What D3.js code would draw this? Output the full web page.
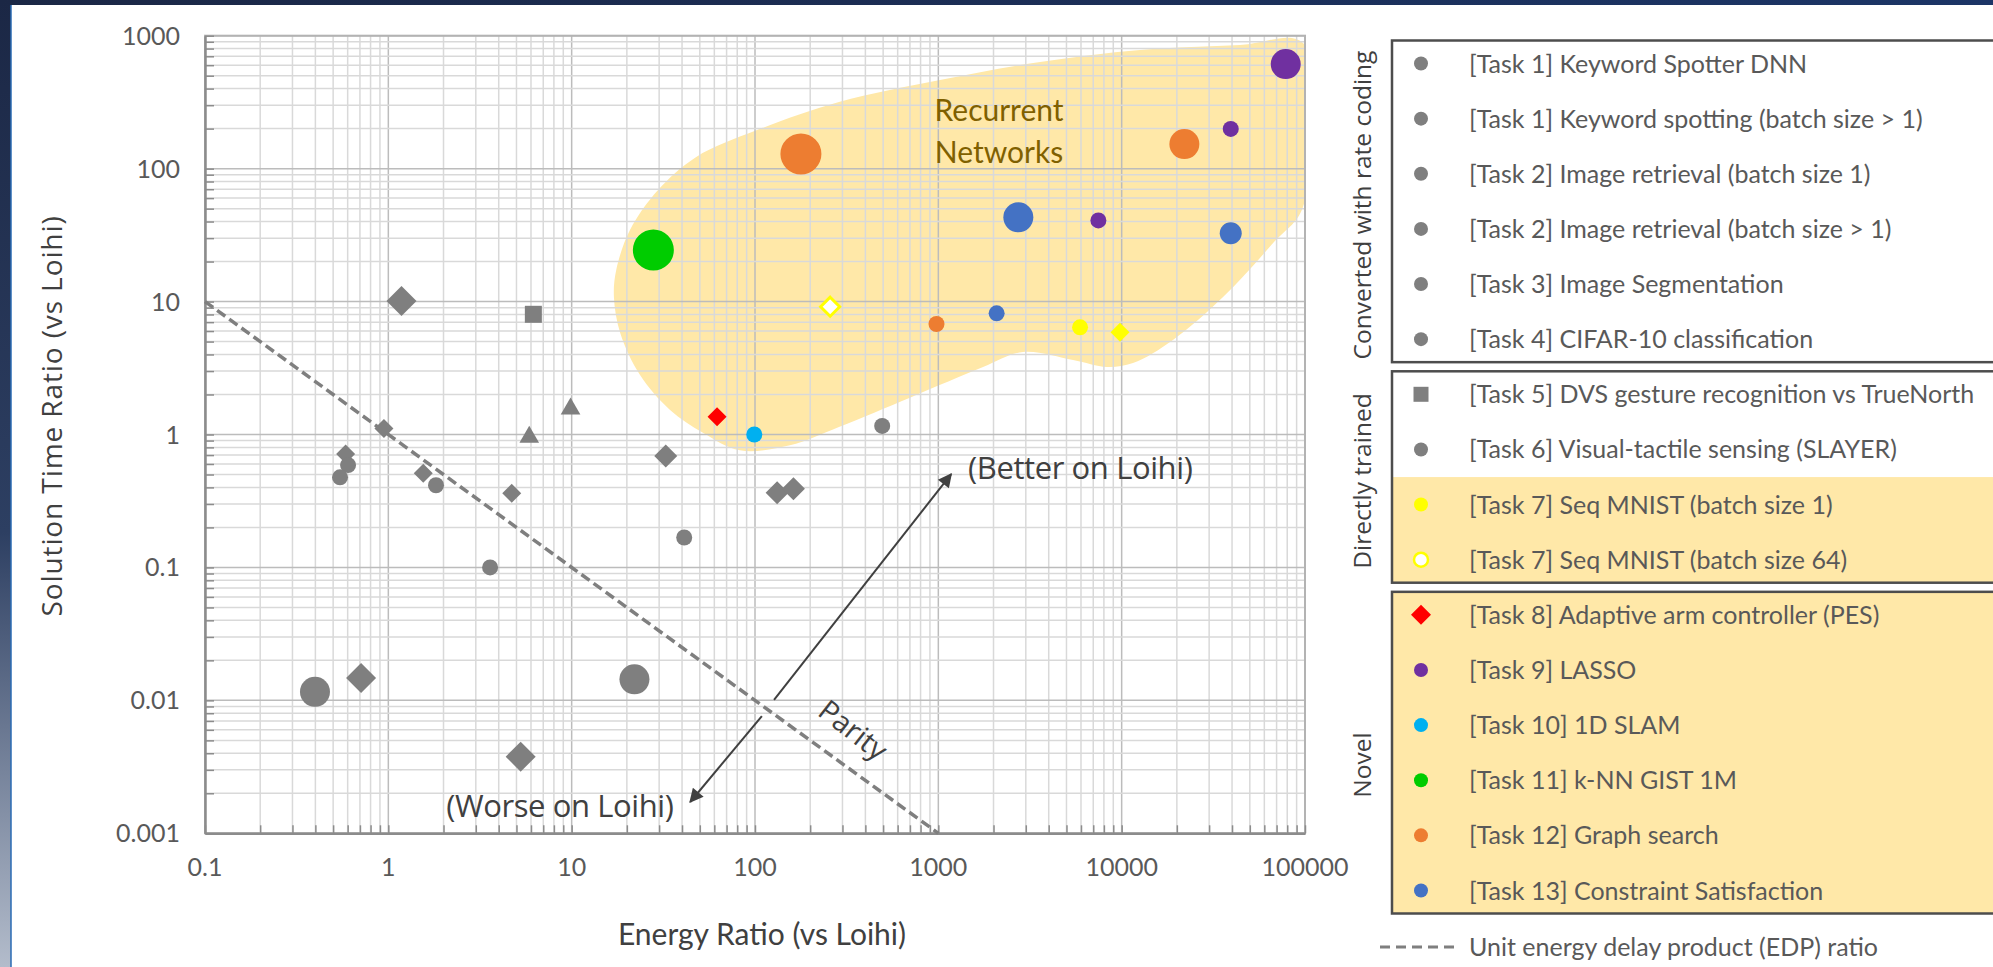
<!DOCTYPE html>
<html>
<head>
<meta charset="utf-8">
<title>Energy and solution time ratio vs Loihi</title>
<script src="https://cdn.jsdelivr.net/npm/d3@7"></script>
<style>
  body { margin: 0; background: #fff; }
  svg text { font-family: Lato, "Open Sans", sans-serif; }
</style>
</head>
<body>
<div id="chart"></div>
<script>
// Axis ticks
var xTicks = [0.1, 1, 10, 100, 1000, 10000, 100000];
var yTicks = [0.001, 0.01, 0.1, 1, 10, 100, 1000];

// Legend entries
var taskKeys = ["t1a", "t1b", "t2a", "t2b", "t3", "t4", "t5", "t6", "t7a", "t7b", "t8", "t9", "t10", "t11", "t12", "t13"];
var taskLabels = [
  "[Task 1] Keyword Spotter DNN",
  "[Task 1] Keyword spotting (batch size > 1)",
  "[Task 2] Image retrieval (batch size 1)",
  "[Task 2] Image retrieval (batch size > 1)",
  "[Task 3] Image Segmentation",
  "[Task 4] CIFAR-10 classification",
  "[Task 5] DVS gesture recognition vs TrueNorth",
  "[Task 6] Visual-tactile sensing (SLAYER)",
  "[Task 7] Seq MNIST (batch size 1)",
  "[Task 7] Seq MNIST (batch size 64)",
  "[Task 8] Adaptive arm controller (PES)",
  "[Task 9] LASSO",
  "[Task 10] 1D SLAM",
  "[Task 11] k-NN GIST 1M",
  "[Task 12] Graph search",
  "[Task 13] Constraint Satisfaction"
];
var taskGroups = [0, 0, 0, 0, 0, 0, 1, 1, 1, 1, 2, 2, 2, 2, 2, 2];
var groupNames = ["Converted with rate coding", "Directly trained", "Novel"];

// Gray comparison points: energy ratio, time ratio, shape, size class
var grayPoints = [
  [1.18, 10.1, "diamond", "l"],
  [6.18, 8.02, "square", "m"],
  [0.946, 1.11, "diamond", "s"],
  [5.87, 0.957, "triangle", "m"],
  [9.86, 1.56, "triangle", "m"],
  [0.585, 0.713, "diamond", "s"],
  [0.603, 0.589, "circle", "s"],
  [0.545, 0.476, "circle", "s"],
  [1.55, 0.511, "diamond", "s"],
  [1.82, 0.415, "circle", "s"],
  [4.71, 0.361, "diamond", "s"],
  [3.59, 0.100, "circle", "s"],
  [0.398, 0.0116, "circle", "l"],
  [0.71, 0.0147, "diamond", "l"],
  [5.27, 0.00377, "diamond", "l"],
  [32.6, 0.689, "diamond", "m"],
  [132, 0.365, "diamond", "m"],
  [162, 0.391, "diamond", "m"],
  [41.1, 0.168, "circle", "s"],
  [22.0, 0.0144, "circle", "l"],
  [494, 1.16, "circle", "s"]
];

// Coloured task points: task, energy ratio, time ratio, shape, size class
var taskPoints = [
  ["t11", 27.9, 24.4, "circle", "xl"],
  ["t12", 178, 129, "circle", "xl"],
  ["t7b", 257, 9.15, "diamond", "s"],
  ["t12", 977, 6.78, "circle", "s"],
  ["t8", 62.1, 1.36, "diamond", "s"],
  ["t10", 99.1, 1.0, "circle", "s"],
  ["t9", 78500, 612, "circle", "l"],
  ["t9", 39350, 199, "circle", "s"],
  ["t12", 21980, 153, "circle", "l"],
  ["t13", 2731, 43, "circle", "l"],
  ["t9", 7464, 40.8, "circle", "s"],
  ["t13", 39350, 32.6, "circle", "m"],
  ["t13", 2080, 8.16, "circle", "s"],
  ["t7a", 5929, 6.4, "circle", "s"],
  ["t7a", 9795, 5.87, "diamond", "s"]
];

// Outline of the "Recurrent Networks" region: energy ratio, time ratio
var recurrentRegion = [
  [97500, 881], [44260, 851], [12590, 780], [3590, 634], [1021, 464], [287, 317],
  [102.6, 195], [47.6, 122], [29.6, 69], [20.8, 34.5], [17.5, 17.3], [17.0, 10.8],
  [18.4, 5.8], [23.6, 2.8], [34.4, 1.53], [52, 1.03], [82.8, 0.76], [155, 0.83],
  [287, 1.14], [710, 1.91], [1754, 3.22], [2897, 4.17], [5430, 3.63], [8318, 3.22],
  [11530, 3.45], [19050, 5.14], [35730, 10.8], [66990, 27.6], [97500, 51.5]
];

// Unit EDP (parity) line and the better/worse arrows
var parityLine = [[0.1, 10], [1000, 0.001]];
var betterArrow = [[127, 0.01007], [1175, 0.504]];
var worseArrow = [[109, 0.00762], [44.3, 0.00172]];

var W = 1993, H = 967;
var plot = { left: 205, right: 1305, top: 35.7, bottom: 833.3 };

var x = d3.scaleLog().domain([0.1, 100000]).range([plot.left, plot.right]);
var y = d3.scaleLog().domain([0.001, 1000]).range([plot.bottom, plot.top]);

var taskColor = d3.scaleOrdinal()
  .domain(taskKeys)
  .range(["#7f7f7f", "#7f7f7f", "#7f7f7f", "#7f7f7f", "#7f7f7f", "#7f7f7f", "#7f7f7f", "#7f7f7f",
          "#ffff00", "#ffff00", "#ff0000", "#7030a0", "#00b0f0", "#00cc00", "#ed7d31", "#4472c4"]);

// pixel size per shape and size class
var markerDims = {
  circle: { s: 8, m: 11, l: 15, xl: 20.5 },
  diamond: { s: 9.5, m: 11.5, l: 15 },
  square: { m: 17 },
  triangle: { m: 17 }
};

var diamondType = {
  draw: function(ctx, size) {
    var r = Math.sqrt(size);
    ctx.moveTo(0, -r); ctx.lineTo(r, 0); ctx.lineTo(0, r); ctx.lineTo(-r, 0); ctx.closePath();
  }
};

function markerPath(shape, px) {
  if (shape === "circle") return d3.symbol(d3.symbolCircle, Math.PI * px * px)();
  if (shape === "diamond") return d3.symbol(diamondType, px * px)();
  if (shape === "square") return d3.symbol(d3.symbolSquare, px * px)();
  var t = px / 3;
  return d3.symbol(d3.symbolTriangle, t * t * Math.sqrt(3) * 3)();
}

var svg = d3.select("#chart").append("svg")
  .attr("width", W)
  .attr("height", H);

// Slide frame
var defs = svg.append("defs");
var side = defs.append("linearGradient").attr("id", "side")
  .attr("x1", 0).attr("y1", 0).attr("x2", 0).attr("y2", 1);
side.append("stop").attr("offset", "0%").attr("stop-color", "#1b2745");
side.append("stop").attr("offset", "55%").attr("stop-color", "#2d3f62");
side.append("stop").attr("offset", "100%").attr("stop-color", "#b3bccb");
var topGrad = defs.append("linearGradient").attr("id", "topband")
  .attr("x1", 0).attr("y1", 0).attr("x2", 1).attr("y2", 0);
topGrad.append("stop").attr("offset", "0%").attr("stop-color", "#1b2745");
topGrad.append("stop").attr("offset", "100%").attr("stop-color", "#1c3566");

svg.append("rect").attr("width", W).attr("height", H).attr("fill", "#fff");
svg.append("rect").attr("width", W).attr("height", 5).attr("fill", "url(#topband)");
svg.append("rect").attr("width", 11).attr("height", H).attr("fill", "url(#side)");
svg.append("line").attr("x1", 11).attr("x2", 11).attr("y1", 5).attr("y2", H)
  .attr("stroke", "#2a6bb5").attr("stroke-width", 1.5);

defs.append("clipPath").attr("id", "plotclip")
  .append("rect")
  .attr("x", plot.left).attr("y", plot.top)
  .attr("width", plot.right - plot.left).attr("height", plot.bottom - plot.top);

// Recurrent Networks region
svg.append("path")
  .datum(recurrentRegion)
  .attr("clip-path", "url(#plotclip)")
  .attr("fill", "#ffe8a8")
  .attr("d", d3.line()
    .x(function(d) { return x(d[0]); })
    .y(function(d) { return y(d[1]); })
    .curve(d3.curveCatmullRomClosed.alpha(0.5)));

// Grid lines
var xAll = x.ticks();
var yAll = y.ticks();
function isMajor(v) { return Math.abs(Math.log10(v) - Math.round(Math.log10(v))) < 1e-6; }

var grid = svg.append("g");
grid.selectAll("line.gx")
  .data(xAll)
  .enter().append("line")
  .attr("x1", function(d) { return x(d); })
  .attr("x2", function(d) { return x(d); })
  .attr("y1", plot.top).attr("y2", plot.bottom)
  .attr("stroke", function(d) { return isMajor(d) ? "#bcbcbc" : "#d9d9d9"; })
  .attr("stroke-width", 1.5);
grid.selectAll("line.gy")
  .data(yAll)
  .enter().append("line")
  .attr("y1", function(d) { return y(d); })
  .attr("y2", function(d) { return y(d); })
  .attr("x1", plot.left).attr("x2", plot.right)
  .attr("stroke", function(d) { return isMajor(d) ? "#bcbcbc" : "#d9d9d9"; })
  .attr("stroke-width", 1.5);

// Plot border
svg.append("rect")
  .attr("x", plot.left).attr("y", plot.top)
  .attr("width", plot.right - plot.left).attr("height", plot.bottom - plot.top)
  .attr("fill", "none").attr("stroke", "#b3b3b3").attr("stroke-width", 2);

// Axes (ticks inward)
var xAxis = svg.append("g")
  .attr("transform", "translate(0," + plot.bottom + ")")
  .call(d3.axisBottom(x).tickValues(xAll).tickSizeInner(-8).tickSizeOuter(0).tickFormat(""));
var yAxis = svg.append("g")
  .attr("transform", "translate(" + plot.left + ",0)")
  .call(d3.axisLeft(y).tickValues(yAll).tickSizeInner(-9).tickSizeOuter(0).tickFormat(""));
[xAxis, yAxis].forEach(function(a) {
  a.select(".domain").attr("stroke", "#8c8c8c").attr("stroke-width", 2.5);
  a.selectAll(".tick line").attr("stroke", "#8c8c8c").attr("stroke-width", 1.5);
});

svg.append("g").selectAll("text")
  .data(xTicks)
  .enter().append("text")
  .attr("x", function(d) { return x(d); })
  .attr("y", plot.bottom + 43)
  .attr("text-anchor", "middle")
  .attr("font-size", 25)
  .attr("fill", "#595959")
  .text(function(d) { return d3.format("~")(d); });

svg.append("g").selectAll("text")
  .data(yTicks)
  .enter().append("text")
  .attr("x", plot.left - 25)
  .attr("y", function(d) { return y(d) + 9; })
  .attr("text-anchor", "end")
  .attr("font-size", 25)
  .attr("fill", "#595959")
  .text(function(d) { return d3.format("~")(d); });

// Axis titles
svg.append("text")
  .attr("x", 762).attr("y", 945)
  .attr("text-anchor", "middle")
  .attr("font-size", 30)
  .attr("fill", "#404040")
  .text("Energy Ratio (vs Loihi)");

svg.append("text")
  .attr("transform", "translate(52,416) rotate(-90)")
  .attr("dy", "0.35em")
  .attr("text-anchor", "middle")
  .style("font-family", "'Open Sans', sans-serif")
  .attr("font-size", 28)
  .attr("letter-spacing", 0.9)
  .attr("fill", "#404040")
  .text("Solution Time Ratio (vs Loihi)");

// Parity line
svg.append("path")
  .datum(parityLine)
  .attr("fill", "none")
  .attr("stroke", "#7f7f7f")
  .attr("stroke-width", 3.5)
  .attr("stroke-dasharray", "10,5")
  .attr("d", d3.line().x(function(d) { return x(d[0]); }).y(function(d) { return y(d[1]); }));

// Arrows
defs.append("marker").attr("id", "head")
  .attr("viewBox", "0 0 10 10").attr("refX", 9).attr("refY", 5)
  .attr("markerUnits", "userSpaceOnUse")
  .attr("markerWidth", 17).attr("markerHeight", 14)
  .attr("orient", "auto")
  .append("path").attr("d", "M0,0L10,5L0,10Z").attr("fill", "#404040");

[betterArrow, worseArrow].forEach(function(a) {
  svg.append("line")
    .attr("x1", x(a[0][0])).attr("y1", y(a[0][1]))
    .attr("x2", x(a[1][0])).attr("y2", y(a[1][1]))
    .attr("stroke", "#404040").attr("stroke-width", 2)
    .attr("marker-end", "url(#head)");
});

svg.append("text")
  .attr("x", x(1452)).attr("y", y(0.462))
  .style("font-family", "'Open Sans', sans-serif")
  .attr("font-size", 31).attr("fill", "#404040")
  .attr("letter-spacing", -0.4)
  .text("(Better on Loihi)");
svg.append("text")
  .attr("x", x(2.07)).attr("y", y(0.001326))
  .style("font-family", "'Open Sans', sans-serif")
  .attr("font-size", 31).attr("fill", "#404040")
  .attr("letter-spacing", -0.4)
  .text("(Worse on Loihi)");
svg.append("text")
  .attr("transform", "translate(" + x(343) + "," + y(0.00598) + ") rotate(38)")
  .attr("text-anchor", "middle").attr("dy", "0.35em")
  .style("font-family", "'Open Sans', sans-serif")
  .attr("font-size", 29).attr("fill", "#404040")
  .text("Parity");

svg.append("text")
  .attr("x", x(2143)).attr("y", y(228))
  .attr("text-anchor", "middle")
  .attr("font-size", 30).attr("fill", "#7f6000")
  .text("Recurrent");
svg.append("text")
  .attr("x", x(2143)).attr("y", y(110))
  .attr("text-anchor", "middle")
  .attr("font-size", 30).attr("fill", "#7f6000")
  .text("Networks");

// Markers
svg.append("g").selectAll("path")
  .data(grayPoints)
  .enter().append("path")
  .attr("transform", function(d) { return "translate(" + x(d[0]) + "," + y(d[1]) + ")"; })
  .attr("d", function(d) { return markerPath(d[2], markerDims[d[2]][d[3]]); })
  .attr("fill", "#7f7f7f");

svg.append("g").selectAll("path")
  .data(taskPoints)
  .enter().append("path")
  .attr("transform", function(d) { return "translate(" + x(d[1]) + "," + y(d[2]) + ")"; })
  .attr("d", function(d) { return markerPath(d[3], markerDims[d[3]][d[4]]); })
  .attr("fill", function(d) { return d[0] === "t7b" ? "#fff" : taskColor(d[0]); })
  .attr("stroke", function(d) { return d[0] === "t7b" ? taskColor(d[0]) : "none"; })
  .attr("stroke-width", 3);

// Legend
var rowY = d3.scaleLinear().domain([0, taskKeys.length - 1]).range([63.5, 890.5]);
var legendX = 1392, legendRight = 2010;
var legend = svg.append("g");

groupNames.forEach(function(name, g) {
  var idx = d3.range(taskKeys.length).filter(function(i) { return taskGroups[i] === g; });
  var top = rowY(idx[0]) - 23, bottom = rowY(idx[idx.length - 1]) + 23;
  var hi = idx.filter(function(i) { return i >= 8; });
  if (hi.length) {
    var hTop = Math.max(top, rowY(hi[0]) - 27.5);
    legend.append("rect")
      .attr("x", legendX).attr("y", hTop)
      .attr("width", legendRight - legendX).attr("height", bottom - hTop)
      .attr("fill", "#ffe8a8");
  }
  legend.append("rect")
    .attr("x", legendX).attr("y", top)
    .attr("width", legendRight - legendX).attr("height", bottom - top)
    .attr("fill", "none").attr("stroke", "#4d4d4d").attr("stroke-width", 2.5);
});

var groupLabelY = [205, 481, 765];
groupNames.forEach(function(name, g) {
  legend.append("text")
    .attr("transform", "translate(1362," + groupLabelY[g] + ") rotate(-90)")
    .attr("dy", "0.35em")
    .attr("text-anchor", "middle")
    .style("font-family", "'Open Sans', sans-serif")
    .attr("font-size", 24.5)
    .attr("fill", "#404040")
    .text(name);
});

var legendShape = function(k) { return k === "t5" ? "square" : (k === "t8" ? "diamond" : "circle"); };
var legendDims = { circle: 7, square: 15, diamond: 10 };
var rows = legend.selectAll("g.row")
  .data(taskKeys)
  .enter().append("g")
  .attr("transform", function(d, i) { return "translate(0," + rowY(i) + ")"; });
rows.append("path")
  .attr("transform", "translate(1421,0)")
  .attr("d", function(d) { return markerPath(legendShape(d), legendDims[legendShape(d)]); })
  .attr("fill", function(d) { return d === "t7b" ? "#fff" : taskColor(d); })
  .attr("stroke", function(d) { return d === "t7b" ? taskColor(d) : "none"; })
  .attr("stroke-width", 2.5);
rows.append("text")
  .attr("x", 1469)
  .attr("y", 9)
  .attr("font-size", 25)
  .attr("fill", "#595959")
  .text(function(d, i) { return taskLabels[i]; });

// EDP legend line
legend.append("line")
  .attr("x1", 1380).attr("x2", 1456).attr("y1", 947).attr("y2", 947)
  .attr("stroke", "#7f7f7f").attr("stroke-width", 3).attr("stroke-dasharray", "10,6");
legend.append("text")
  .attr("x", 1469).attr("y", 956)
  .attr("font-size", 25)
  .attr("fill", "#595959")
  .text("Unit energy delay product (EDP) ratio");
</script>
</body>
</html>
